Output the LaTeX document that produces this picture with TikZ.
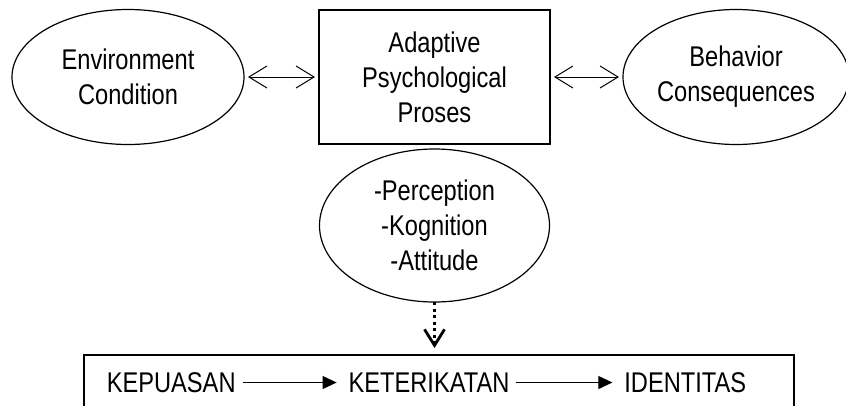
\documentclass[tikz,border=0pt]{standalone}
\usepackage{fontspec}
\setmainfont{Liberation Sans}[FakeStretch=0.83]
\usepackage{tikz}
\usetikzlibrary{shapes,positioning,arrows.meta}

\begin{document}
\begin{tikzpicture}[auto,
	every node/.style={font=\fontsize{28.5}{35}\selectfont, outer sep=0pt},
	box/.style={draw, line width=1.2pt, inner sep=0pt, align=center},
	oval/.style={draw, ellipse, line width=1.2pt, inner sep=0pt, align=center},
	word/.style={inner sep=0pt},
	both/.style={line width=1pt, {Straight Barb[length=18pt,width=22pt]}-{Straight Barb[length=18pt,width=22pt]}, shorten <=4pt, shorten >=4pt},
	next/.style={line width=1pt, -{Triangle[length=14pt,width=13pt]}, shorten <=7pt, shorten >=12pt},
	dotarrow/.style={line width=2.8pt, dash pattern=on 3pt off 3.5pt, -{Straight Barb[length=16pt,width=20pt]}, shorten >=7pt}]
	\useasboundingbox (0,0) rectangle (846pt,-405pt);
	\clip (0,0) rectangle (846pt,-405pt);

	\node[box, minimum width=231pt, minimum height=134pt](Adapt) at (434.5pt,-77pt){Adaptive\\Psychological\\Proses};
	\node[oval, minimum width=232pt, minimum height=135pt, left=75pt of Adapt](Env){Environment\\Condition};
	\node[oval, minimum width=226pt, minimum height=135pt, right=73pt of Adapt](Behav){Behavior\\Consequences};
	\node[oval, minimum width=230pt, minimum height=153pt, below=5pt of Adapt](Mid){-Perception\\-Kognition\\-Attitude};

	\node[box, minimum width=710pt, minimum height=55pt, below=53pt of Mid, xshift=4.5pt](Chain){};
	\node[word](Kete) at ([xshift=-10pt]Chain.center){KETERIKATAN};
	\node[word, left=113pt of Kete](Kep){KEPUASAN};
	\node[word, right=115pt of Kete](Ident){IDENTITAS};

	\draw[both] (Env) -- (Adapt);
	\draw[both] (Adapt) -- (Behav);
	\draw[dotarrow] (Mid.south) -- (Mid.south |- Chain.north);
	\draw[next] (Kep) -- (Kete);
	\draw[next] (Kete) -- (Ident);
\end{tikzpicture}
\end{document}
